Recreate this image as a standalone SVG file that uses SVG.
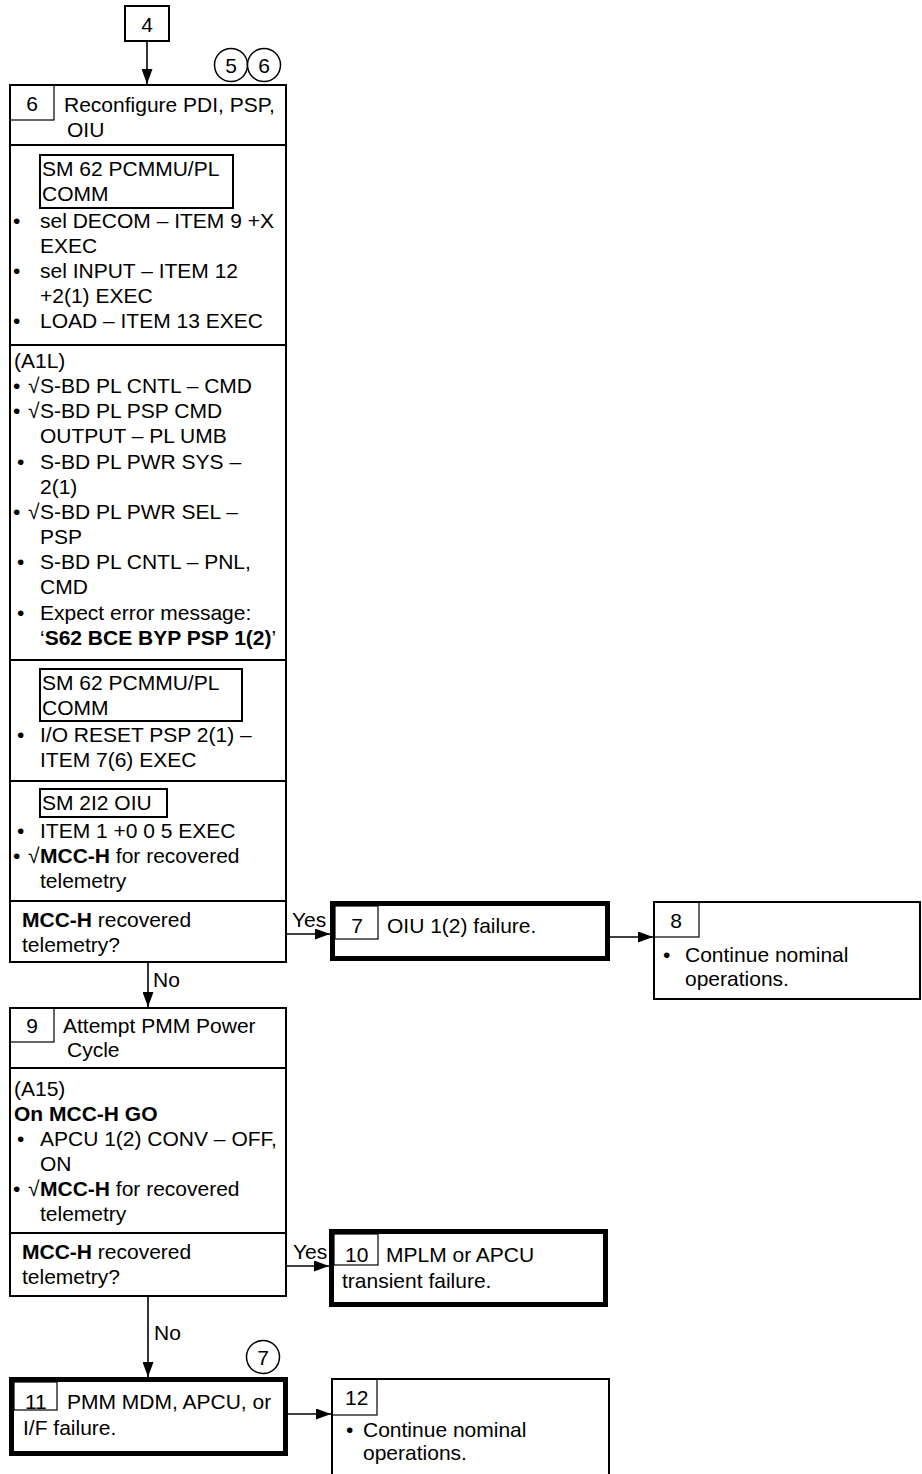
<svg xmlns="http://www.w3.org/2000/svg" width="922" height="1474" viewBox="0 0 922 1474">
<style>
text{font-family:"Liberation Sans",Arial,Helvetica,sans-serif;font-size:21px;fill:#000}
.b{font-weight:bold}
.c{text-anchor:middle}
.box{fill:#fff;stroke:#000;stroke-width:2}
.thick{fill:#fff;stroke:#000;stroke-width:5}
.thin{fill:none;stroke:#000;stroke-width:1.2}
.div{stroke:#000;stroke-width:2}
.circ{fill:#fff;stroke:#000;stroke-width:1.5}
.conn{fill:none;stroke:#000;stroke-width:1.6;marker-end:url(#ah)}
</style>
<defs>
<marker id="ah" markerUnits="userSpaceOnUse" markerWidth="15" markerHeight="11" refX="15" refY="5.5" orient="auto">
<path d="M0,0 L15,5.5 L0,11 z" fill="#000"/>
</marker>
</defs>
<rect width="922" height="1474" fill="#fff"/>

<g id="connectors">
<path class="conn" d="M147,42 V84"/>
<path class="conn" d="M287,934 H330"/>
<text x="292" y="927">Yes</text>
<path class="conn" d="M610,937 H653"/>
<path class="conn" d="M148,963 V1007"/>
<text x="153" y="987">No</text>
<path class="conn" d="M287,1266 H329"/>
<text x="293" y="1259">Yes</text>
<path class="conn" d="M148,1297 V1377"/>
<text x="154" y="1340">No</text>
<path class="conn" d="M288,1414 H331"/>
</g>

<g id="node-4">
<rect class="box" x="125" y="6" width="44" height="35"/>
<text class="c" x="147" y="32">4</text>
</g>

<g id="ref-5-6">
<circle class="circ" cx="231" cy="65" r="16.5"/>
<text class="c" x="231" y="72.5">5</text>
<circle class="circ" cx="264" cy="65" r="16.5"/>
<text class="c" x="264" y="72.5">6</text>
</g>

<g id="node-6">
<rect class="box" x="10" y="85" width="276" height="877"/>
<rect class="thin" x="10" y="85" width="44" height="35"/>
<text class="c" x="32" y="111">6</text>
<text x="64" y="112">Reconfigure PDI, PSP,</text>
<text x="67" y="137">OIU</text>
<line class="div" x1="10" y1="145" x2="286" y2="145"/>
<rect class="box" x="40" y="155" width="193" height="53"/>
<text x="42" y="176">SM 62 PCMMU/PL</text>
<text x="42" y="201">COMM</text>
<text y="228"><tspan x="13">•</tspan><tspan x="40">sel DECOM – ITEM 9 +X</tspan></text>
<text x="40" y="253">EXEC</text>
<text y="278"><tspan x="13">•</tspan><tspan x="40">sel INPUT – ITEM 12</tspan></text>
<text x="40" y="303">+2(1) EXEC</text>
<text y="328"><tspan x="13">•</tspan><tspan x="40">LOAD – ITEM 13 EXEC</tspan></text>
<line class="div" x1="10" y1="345" x2="286" y2="345"/>
<text x="14" y="368">(A1L)</text>
<text y="393"><tspan x="13">•</tspan><tspan x="28">√</tspan><tspan x="40">S-BD PL CNTL – CMD</tspan></text>
<text y="418"><tspan x="13">•</tspan><tspan x="28">√</tspan><tspan x="40">S-BD PL PSP CMD</tspan></text>
<text x="40" y="443">OUTPUT – PL UMB</text>
<text y="469"><tspan x="17">•</tspan><tspan x="40">S-BD PL PWR SYS –</tspan></text>
<text x="40" y="494">2(1)</text>
<text y="519"><tspan x="13">•</tspan><tspan x="28">√</tspan><tspan x="40">S-BD PL PWR SEL –</tspan></text>
<text x="40" y="544">PSP</text>
<text y="569"><tspan x="17">•</tspan><tspan x="40">S-BD PL CNTL – PNL,</tspan></text>
<text x="40" y="594">CMD</text>
<text y="620"><tspan x="17">•</tspan><tspan x="40">Expect error message:</tspan></text>
<text x="40" y="645">‘<tspan class="b">S62 BCE BYP PSP 1(2)</tspan>’</text>
<line class="div" x1="10" y1="660" x2="286" y2="660"/>
<rect class="box" x="40" y="669" width="202" height="52"/>
<text x="42" y="690">SM 62 PCMMU/PL</text>
<text x="42" y="715">COMM</text>
<text y="742"><tspan x="17">•</tspan><tspan x="40">I/O RESET PSP 2(1) –</tspan></text>
<text x="40" y="767">ITEM 7(6) EXEC</text>
<line class="div" x1="10" y1="781" x2="286" y2="781"/>
<rect class="box" x="40" y="789" width="127" height="28"/>
<text x="42" y="810">SM 2I2 OIU</text>
<text y="838"><tspan x="17">•</tspan><tspan x="40">ITEM 1 +0 0 5 EXEC</tspan></text>
<text y="863"><tspan x="13">•</tspan><tspan x="28">√</tspan><tspan x="40" class="b">MCC-H</tspan> for recovered</text>
<text x="40" y="888">telemetry</text>
<line class="div" x1="10" y1="901" x2="286" y2="901"/>
<text x="22" y="927"><tspan class="b">MCC-H</tspan> recovered</text>
<text x="22" y="952">telemetry?</text>
</g>

<g id="node-7">
<rect class="thick" x="332.5" y="903.5" width="275" height="55"/>
<rect class="thin" x="335" y="906" width="43" height="33"/>
<text class="c" x="357" y="933">7</text>
<text x="387" y="933">OIU 1(2) failure.</text>
</g>

<g id="node-8">
<rect class="box" x="654" y="902" width="266" height="97"/>
<rect class="thin" x="654" y="902" width="45" height="35"/>
<text class="c" x="676" y="928">8</text>
<text y="962"><tspan x="663">•</tspan><tspan x="685">Continue nominal</tspan></text>
<text x="685" y="986">operations.</text>
</g>

<g id="node-9">
<rect class="box" x="10" y="1008" width="276" height="288"/>
<rect class="thin" x="10" y="1008" width="44" height="34"/>
<text class="c" x="32" y="1033">9</text>
<text x="63" y="1033">Attempt PMM Power</text>
<text x="67" y="1057">Cycle</text>
<line class="div" x1="10" y1="1068" x2="286" y2="1068"/>
<text x="14" y="1096">(A15)</text>
<text x="14" y="1121" class="b">On MCC-H GO</text>
<text y="1146"><tspan x="17">•</tspan><tspan x="40">APCU 1(2) CONV – OFF,</tspan></text>
<text x="40" y="1171">ON</text>
<text y="1196"><tspan x="13">•</tspan><tspan x="28">√</tspan><tspan x="40" class="b">MCC-H</tspan> for recovered</text>
<text x="40" y="1221">telemetry</text>
<line class="div" x1="10" y1="1233" x2="286" y2="1233"/>
<text x="22" y="1259"><tspan class="b">MCC-H</tspan> recovered</text>
<text x="22" y="1284">telemetry?</text>
</g>

<g id="node-10">
<rect class="thick" x="331.5" y="1231.5" width="274" height="73"/>
<rect class="thin" x="334" y="1234" width="44" height="31"/>
<text x="345" y="1262">10</text>
<text x="386" y="1262">MPLM or APCU</text>
<text x="342" y="1288">transient failure.</text>
</g>

<g id="ref-7">
<circle class="circ" cx="263" cy="1357" r="16.5"/>
<text class="c" x="263" y="1364.5">7</text>
</g>

<g id="node-11">
<rect class="thick" x="11.5" y="1379.5" width="274" height="74"/>
<rect class="thin" x="14" y="1382" width="43" height="28"/>
<text x="25" y="1409">11</text>
<text x="67" y="1409">PMM MDM, APCU, or</text>
<text x="23" y="1435">I/F failure.</text>
</g>

<g id="node-12">
<rect class="box" x="332" y="1379" width="277" height="120"/>
<rect class="thin" x="332" y="1379" width="45" height="36"/>
<text x="345" y="1405">12</text>
<text y="1437"><tspan x="346">•</tspan><tspan x="363">Continue nominal</tspan></text>
<text x="363" y="1460">operations.</text>
</g>
</svg>
